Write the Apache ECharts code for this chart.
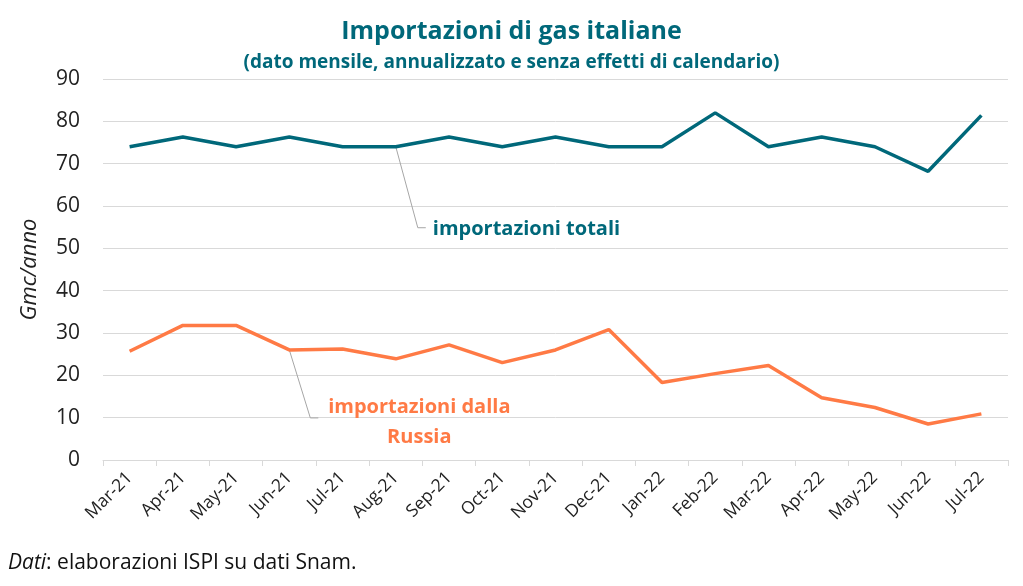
<!DOCTYPE html>
<html><head><meta charset="utf-8">
<script src="https://cdn.jsdelivr.net/npm/echarts@6/dist/echarts.min.js"></script>
<style>html,body{margin:0;padding:0;background:#fff}#c{width:1023px;height:586px}</style>
</head><body><div id="c"></div>
<script>
const categories = ['Mar-21','Apr-21','May-21','Jun-21','Jul-21','Aug-21','Sep-21','Oct-21','Nov-21','Dec-21','Jan-22','Feb-22','Mar-22','Apr-22','May-22','Jun-22','Jul-22'];
const totali = [74, 76.3, 74, 76.3, 74, 74, 76.3, 74, 76.3, 74, 74, 82, 74, 76.3, 74, 68.2, 81.4];
const russia = [25.7, 31.8, 31.8, 26, 26.2, 23.9, 27.2, 23, 26, 30.8, 18.3, 20.4, 22.3, 14.7, 12.4, 8.5, 10.9];
const yTicks = [0, 10, 20, 30, 40, 50, 60, 70, 80, 90];

const TEAL = '#00687A', ORANGE = '#FF7A45';
const FONT = '"Open Sans", sans-serif';
const chart = echarts.init(document.getElementById('c'));
chart.setOption({
  animation: false,
  textStyle: {fontFamily: FONT},
  title: [
    {text: 'Importazioni di gas italiane', left: 'center', top: 14,
     textStyle: {color: TEAL, fontSize: 25, fontWeight: 'bold', fontFamily: FONT}},
    {text: '(dato mensile, annualizzato e senza effetti di calendario)', left: 'center', top: 48,
     textStyle: {color: TEAL, fontSize: 19, fontWeight: 'bold', fontFamily: FONT}}
  ],
  grid: {left: 103, right: 15, top: 79, bottom: 126},
  xAxis: {
    type: 'category', data: categories, boundaryGap: true,
    axisLine: {lineStyle: {color: '#d9d9d9', width: 1}},
    axisTick: {show: true, length: 6, lineStyle: {color: '#d9d9d9'}},
    axisLabel: {rotate: 45, fontSize: 17.5, color: '#222', margin: 15, interval: 0, fontFamily: FONT}
  },
  yAxis: {
    type: 'value', min: yTicks[0], max: yTicks[yTicks.length-1], interval: 10,
    name: 'Gmc/anno', nameLocation: 'middle', nameGap: 62, nameRotate: 90,
    nameTextStyle: {fontSize: 22, fontStyle: 'italic', color: '#222', fontFamily: FONT},
    axisLine: {show: false}, axisTick: {show: false},
    axisLabel: {fontSize: 21, color: '#222', margin: 23, fontFamily: FONT},
    splitLine: {lineStyle: {color: '#d9d9d9', width: 1}}
  },
  series: [
    {name: 'importazioni totali', type: 'line', data: totali, symbol: 'none',
     lineStyle: {color: TEAL, width: 3.5}, itemStyle: {color: TEAL}},
    {name: 'importazioni dalla Russia', type: 'line', data: russia, symbol: 'none',
     lineStyle: {color: ORANGE, width: 3.5}, itemStyle: {color: ORANGE}}
  ]
});

const pT = chart.convertToPixel({seriesIndex: 0}, [5, totali[5]]);
const pR = chart.convertToPixel({seriesIndex: 1}, [3, russia[3]]);
chart.setOption({
  graphic: [
    {type: 'polyline', silent: true, shape: {points: [[pT[0], pT[1]], [pT[0] + 22, pT[1] + 81], [pT[0] + 30, pT[1] + 81]]},
     style: {stroke: '#a6a6a6', lineWidth: 1, fill: null}},
    {type: 'text', left: pT[0] + 37, top: pT[1] + 73,
     style: {text: 'importazioni totali', fill: TEAL, font: 'bold 20px ' + FONT}},
    {type: 'polyline', silent: true, shape: {points: [[pR[0], pR[1]], [pR[0] + 21, pR[1] + 68], [pR[0] + 29, pR[1] + 68]]},
     style: {stroke: '#a6a6a6', lineWidth: 1, fill: null}},
    {type: 'text', x: pR[0] + 130, y: pR[1] + 42,
     style: {text: 'importazioni dalla\nRussia', fill: ORANGE, font: 'bold 20px ' + FONT, align: 'center', lineHeight: 30}},
    {type: 'text', left: 8, top: 553,
     style: {rich: {i: {fontStyle: 'italic', fontSize: 21, fill: '#111', fontFamily: FONT}, n: {fontSize: 21, fill: '#111', fontFamily: FONT}},
             text: '{i|Dati}{n|: elaborazioni ISPI su dati Snam.}'}}
  ]
});
</script></body></html>
